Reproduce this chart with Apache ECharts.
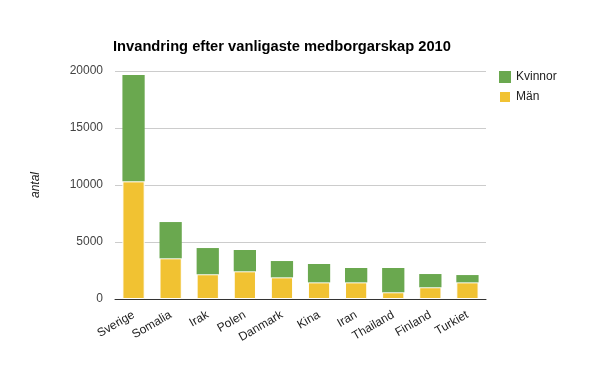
<!DOCTYPE html>
<html><head><meta charset="utf-8">
<script src="https://cdn.jsdelivr.net/npm/echarts@6/dist/echarts.min.js"></script>
<style>html,body{margin:0;padding:0;background:#fff}#c{width:600px;height:371px}</style>
</head><body><div id="c"></div>
<script>
const categories = ['Sverige','Somalia','Irak','Polen','Danmark','Kina','Iran','Thailand','Finland','Turkiet'];
const man = [10320, 3570, 2170, 2430, 1900, 1460, 1460, 590, 1030, 1460];
const kvinnor = [9330, 3180, 2300, 1870, 1430, 1610, 1260, 2130, 1160, 640];
const yTicks = [0, 5000, 10000, 15000, 20000];

const chart = echarts.init(document.getElementById('c'));
const font = 'Liberation Sans, Arial, sans-serif';
chart.setOption({
  animation: false,
  textStyle: {fontFamily: font},
  title: {text: 'Invandring efter vanligaste medborgarskap 2010', left: 108, top: 34,
    textStyle: {fontSize: 14.7, fontWeight: 'bold', color: '#000', fontFamily: font}},
  legend: {orient: 'vertical', left: 493, top: 66, itemWidth: 12, itemHeight: 12, itemGap: 7,
    icon: 'rect', data: ['Kvinnor', 'Män'],
    textStyle: {fontSize: 12, color: '#222', fontFamily: font}},
  grid: {left: 115, right: 114, top: 71, bottom: 72, containLabel: false},
  xAxis: {type: 'category', data: categories,
    axisLine: {lineStyle: {color: '#333', width: 1}}, axisTick: {show: false},
    axisLabel: {rotate: 30, fontSize: 12, color: '#222', margin: 15, interval: 0, fontFamily: font}},
  yAxis: {type: 'value', min: 0, max: 20000, interval: 5000,
    name: 'antal', nameLocation: 'middle', nameGap: 73, nameRotate: 90,
    nameTextStyle: {fontStyle: 'italic', fontSize: 12, color: '#222', fontFamily: font},
    axisLine: {show: false}, axisTick: {show: false},
    splitLine: {lineStyle: {color: '#ccc'}},
    axisLabel: {fontSize: 12, color: '#444', margin: 12, fontFamily: font,
      formatter: v => yTicks.includes(v) ? String(v) : ''}},
  series: [
    {name: 'Män', type: 'bar', stack: 's', data: man, barWidth: '60%',
      itemStyle: {color: '#f1c232', borderColor: '#fff', borderWidth: 1}},
    {name: 'Kvinnor', type: 'bar', stack: 's', data: kvinnor, barWidth: '60%',
      itemStyle: {color: '#6aa84f'}}
  ]
});
</script></body></html>
